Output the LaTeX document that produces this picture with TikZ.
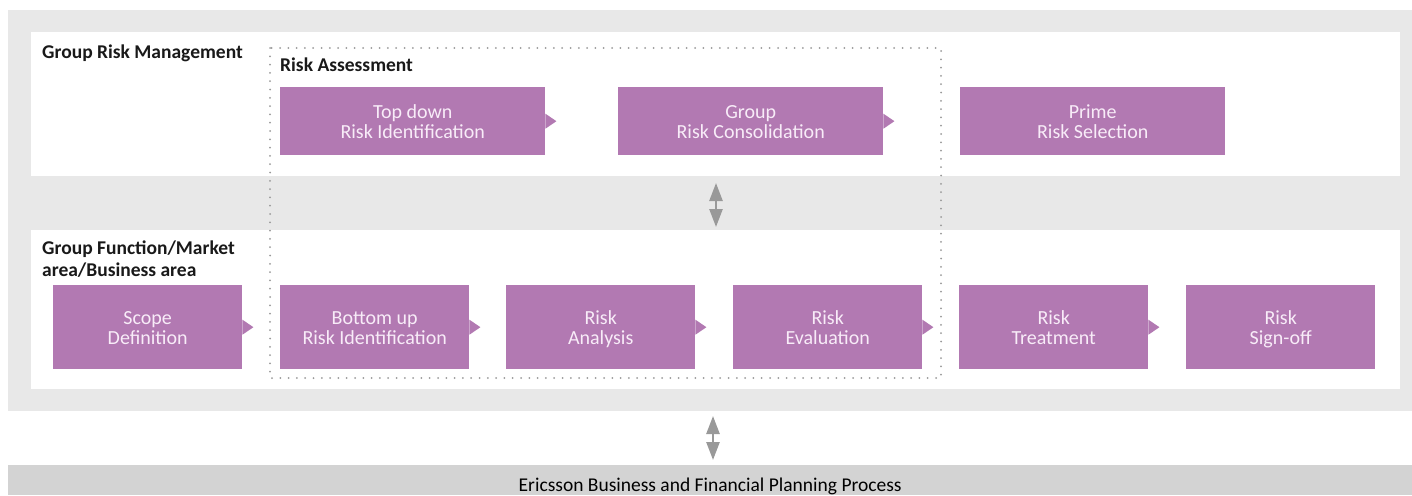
\documentclass[tikz,border=0pt]{standalone}
\usepackage{fontspec}
\setmainfont{Carlito}
\usetikzlibrary{arrows.meta}
\definecolor{riskpurple}{RGB}{178,121,178}
\definecolor{paneGrey}{RGB}{232,232,232}
\definecolor{barGrey}{RGB}{211,211,211}
\definecolor{lineGrey}{RGB}{153,153,153}
\definecolor{boxText}{RGB}{248,236,248}
\begin{document}
\begin{tikzpicture}[x=1pt, y=-1pt,
  step box/.style={fill=riskpurple, text=boxText, minimum width=189pt, minimum height=84pt, inner sep=0pt, align=center, font=\fontsize{20}{20}\selectfont, text height=40pt, text depth=6pt, anchor=north west},
  wide box/.style={step box, minimum width=265pt, minimum height=68pt},
  head/.style={anchor=base west, inner sep=0pt, align=left, text=black!90, font=\fontsize{19.5}{22}\selectfont\bfseries},
  dbl arrow/.style={draw=lineGrey, line width=2.5pt, {Triangle[width=13pt,length=18pt]}-{Triangle[width=13pt,length=18pt]}}]
	\useasboundingbox (0,0) rectangle (1412,495);
	% panels
	\fill[paneGrey] (8,10) rectangle (1412,411);
	\fill[white] (31,32) rectangle (1400,176);
	\fill[white] (31,230) rectangle (1400,389);
	\node[fill=barGrey, minimum width=1404pt, minimum height=30pt, inner sep=0pt, text height=22pt, text depth=0pt, anchor=north west, font=\fontsize{19.5}{20}\selectfont] (plan) at (8,465) {Ericsson Business and Financial Planning Process};
	\draw[lineGrey, line width=2pt, dash pattern=on 0pt off 8.3pt, line cap=round] (270,48) rectangle (941,378);
	% headings
	\node[head] (grm) at (42,59) {Group Risk Management};
	\node[head] (ra) at (280,71) {Risk Assessment};
	\node[head, anchor=north west] (gfm) at (42,241) {Group Function/Market\\area/Business area};
	% top row
	\node[wide box] (topdown) at (280,87) {Top down\\Risk Identification};
	\node[wide box] (consol) at (618,87) {Group\\Risk Consolidation};
	\node[wide box] (prime) at (960,87) {Prime\\Risk Selection};
	% bottom row
	\node[step box] (scope) at (53,285) {Scope\\Definition};
	\node[step box] (bottomup) at (280,285) {Bottom up\\Risk Identification};
	\node[step box] (analysis) at (506,285) {Risk\\Analysis};
	\node[step box] (evaluation) at (733,285) {Risk\\Evaluation};
	\node[step box] (treatment) at (959,285) {Risk\\Treatment};
	\node[step box] (signoff) at (1186,285) {Risk\\Sign-off};
	% chevron tips
	\foreach \n in {topdown, consol, scope, bottomup, analysis, evaluation, treatment}
		\fill[riskpurple] ([yshift=7.5pt]\n.east) -- ([xshift=11pt]\n.east) -- ([yshift=-7.5pt]\n.east) -- cycle;
	% links
	\coordinate (up1) at (716,183);
	\coordinate (dn1) at (716,227);
	\coordinate (up2) at (713,416);
	\coordinate (dn2) at (713,460);
	\draw[dbl arrow] (up1) -- (dn1);
	\draw[dbl arrow] (up2) -- (dn2);
\end{tikzpicture}
\end{document}
